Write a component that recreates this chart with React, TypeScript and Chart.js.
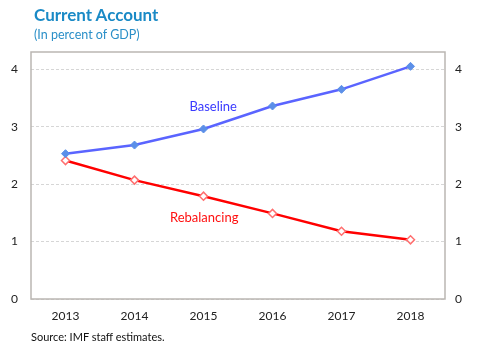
import React, { useEffect, useRef } from "react";
import { Chart, registerables } from "chart.js";

Chart.register(...registerables);

const years = ["2013", "2014", "2015", "2016", "2017", "2018"];
const baseline = [2.53, 2.68, 2.96, 3.36, 3.65, 4.05];
const rebalancing = [2.41, 2.07, 1.79, 1.49, 1.18, 1.03];
const yTicks = [0, 1, 2, 3, 4];

const FONT = "Lato, 'Open Sans', sans-serif";

const frame = {
  id: "frame",
  beforeDatasetsDraw(chart: any) {
    const { ctx, chartArea: a } = chart;
    ctx.save();
    ctx.strokeStyle = "#bab6b2";
    ctx.lineWidth = 1.5;
    ctx.strokeRect(a.left, a.top, a.right - a.left, a.bottom - a.top);
    ctx.restore();
  },
};

const seriesLabels = {
  id: "seriesLabels",
  afterDatasetsDraw(chart: any) {
    const { ctx } = chart;
    const xs = chart.scales.x;
    const ys = chart.scales.y;
    ctx.save();
    ctx.font = `13px ${FONT}`;
    ctx.textAlign = "center";
    ctx.textBaseline = "middle";
    ctx.fillStyle = "#3a3aff";
    ctx.fillText("Baseline", xs.getPixelForValue(2.14), ys.getPixelForValue(3.34));
    ctx.fillStyle = "#ff1010";
    ctx.fillText("Rebalancing", xs.getPixelForValue(2.01), ys.getPixelForValue(1.41));
    ctx.restore();
  },
};

export default function App() {
  const ref = useRef<HTMLCanvasElement>(null);
  useEffect(() => {
    const chart = new Chart(ref.current as HTMLCanvasElement, {
      type: "line",
      data: {
        labels: years,
        datasets: [
          {
            label: "Baseline",
            data: baseline,
            borderColor: "#5a64ff",
            borderWidth: 2.5,
            pointStyle: "rectRot",
            pointRadius: 4,
            pointBackgroundColor: "#5b8fe8",
            pointBorderColor: "#5b8fe8",
            pointBorderWidth: 1,
            yAxisID: "y",
          },
          {
            label: "Rebalancing",
            data: rebalancing,
            borderColor: "#ff0000",
            borderWidth: 2.5,
            pointStyle: "rectRot",
            pointRadius: 4,
            pointBackgroundColor: "#ffffff",
            pointBorderColor: "#ff7070",
            pointBorderWidth: 1.5,
            yAxisID: "y",
          },
        ],
      },
      options: {
        responsive: false,
        animation: false,
        devicePixelRatio: 1,
        layout: { padding: { top: 52, left: 0, right: 0, bottom: 0 } },
        plugins: { legend: { display: false }, tooltip: { enabled: false } },
        scales: {
          x: {
            offset: true,
            grid: { display: false, drawTicks: false },
            border: { display: false },
            ticks: { font: { family: FONT, size: 12 }, color: "#222", padding: 10 },
            afterFit: (s: any) => { s.height = 55; },
          },
          y: {
            position: "left",
            min: 0,
            max: 4.3,
            afterBuildTicks: (s: any) => { s.ticks = yTicks.map((v) => ({ value: v })); },
            grid: { color: "#d6d6d6", lineWidth: 1, drawTicks: false },
            border: { display: false, dash: [3, 2] },
            ticks: { font: { family: FONT, size: 12 }, color: "#222", padding: 13 },
            afterFit: (s: any) => { s.width = 31; },
          },
          y2: {
            position: "right",
            min: 0,
            max: 4.3,
            afterBuildTicks: (s: any) => { s.ticks = yTicks.map((v) => ({ value: v })); },
            grid: { display: false, drawTicks: false },
            border: { display: false },
            ticks: { font: { family: FONT, size: 12 }, color: "#222", padding: 10 },
            afterFit: (s: any) => { s.width = 35; },
          },
        },
      },
      plugins: [frame, seriesLabels],
    } as any);
    return () => chart.destroy();
  }, []);

  return (
    <div style={{ position: "absolute", left: 0, top: 0, width: 480, height: 354, background: "#fff", fontFamily: FONT }}>
      <canvas ref={ref} width={480} height={354} style={{ position: "absolute", left: 0, top: 0, width: 480, height: 354 }} />
      <div style={{ position: "absolute", left: 34, top: 5, fontSize: 17, fontWeight: 700, color: "#1a8ac6", lineHeight: "20px", whiteSpace: "nowrap" }}>
        Current Account
      </div>
      <div style={{ position: "absolute", left: 34, top: 27, fontSize: 12.5, color: "#2a8fc8", lineHeight: "16px", whiteSpace: "nowrap" }}>
        (In percent of GDP)
      </div>
      <div style={{ position: "absolute", left: 31, top: 330, fontSize: 11, color: "#111", lineHeight: "14px", whiteSpace: "nowrap" }}>
        Source: IMF staff estimates.
      </div>
    </div>
  );
}
